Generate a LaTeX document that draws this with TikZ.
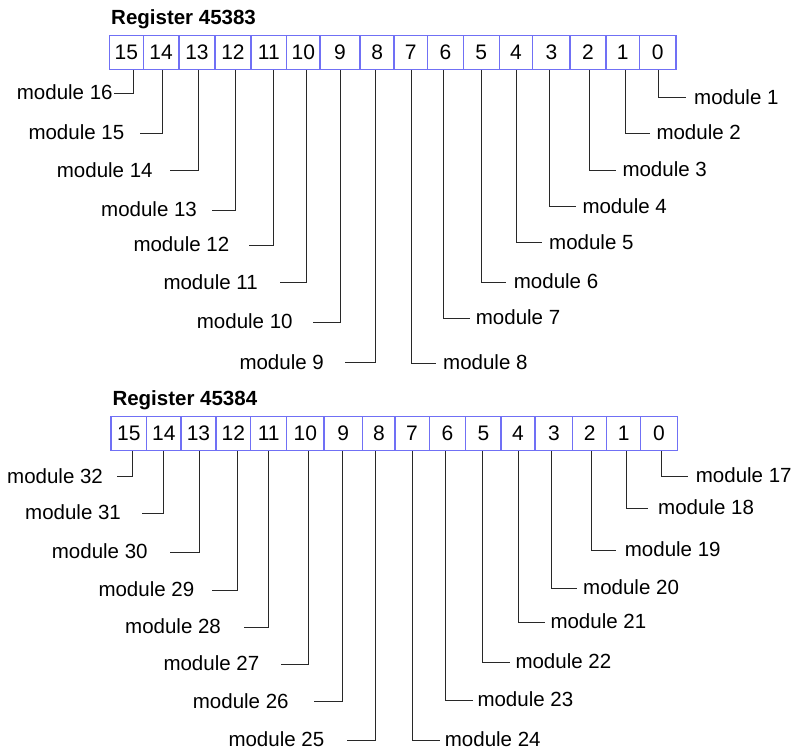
\documentclass[tikz,border=0pt]{standalone}
\usepackage{fontspec}
\setmainfont{Liberation Sans}
\definecolor{boxblue}{RGB}{112,112,245}
\definecolor{leadgray}{RGB}{40,40,40}
\begin{document}
\begin{tikzpicture}[x=1pt,y=-1pt,
  cellbox/.style={draw=boxblue, line width=1.1pt, inner sep=0pt,
    minimum height=34pt, font=\fontsize{21}{24}\selectfont},
  lead/.style={draw=leadgray, line width=0.9pt},
  lbl/.style={inner sep=0pt, font=\fontsize{20.5}{24}\selectfont},
  regtitle/.style={inner sep=0pt, font=\fontsize{20.5}{24}\selectfont\bfseries}]
\useasboundingbox (0,0) rectangle (793,752);

% titles
\node[regtitle, anchor=base west] (t1) at (111,25) {Register 45383};
\node[regtitle, anchor=base west] (t2) at (112.3,405) {Register 45384};

% register 1 cells
\foreach \b/\xa/\xb in {15/109.3/143.3,14/143.3/179,13/179/215,12/215/251,11/251/286.7,10/286.7/320,9/320/360,8/360/394.5,
  7/393.5/427.7,6/427.7/463.3,5/463.3/499.3,4/499.3/532.7,3/532.7/570,2/570/606,1/606/639.3,0/639.3/676}
  \node[cellbox, minimum width={\xb-\xa}] (a\b) at ({(\xa+\xb)/2},52.5) {\b};

% register 2 cells
\foreach \b/\xa/\xb in {15/111/146.7,14/146.7/181,13/181/216,12/216/250.7,11/250.7/286.7,10/286.7/324,9/324/362.3,8/362.3/395.5,
  7/394.5/429.3,6/429.3/465.7,5/465.7/501,4/501/535,3/535/572.7,2/572.7/606.7,1/606.7/640.7,0/640.7/677.3}
  \node[cellbox, minimum width={\xb-\xa}] (b\b) at ({(\xa+\xb)/2},433.5) {\b};

% leaders: register/bit/leader x/line y/end x/text x/module
\foreach \r/\b/\L/\y/\E/\T/\m in {
  a/15/133.3/93.3/114.3/16.7/16, a/14/162.7/133.3/140/28.3/15, a/13/198.3/170.7/170/56.7/14,
  a/12/235.7/210/212.3/101/13, a/11/273.3/245/249.3/133.3/12, a/10/306.3/282.7/280/163.3/11,
  a/9/340.7/322.3/313.3/196.7/10, a/8/375/362.7/345/239.3/9,
  a/7/411.7/363.3/436.3/443/8, a/6/443.3/318.3/469.7/475.7/7, a/5/481.7/282.3/506.3/513.7/6,
  a/4/516.7/242.7/542/549/5, a/3/549.3/206.7/576.3/582.3/4, a/2/589.3/170/615.7/622.3/3,
  a/1/625/133.3/650.3/656.3/2, a/0/658.3/97.7/686.3/694/1,
  b/15/132.3/476.7/116.7/7/32, b/14/163.3/513.3/141.7/25/31, b/13/199/552.3/170/51.7/30,
  b/12/237.3/590/212.3/98.3/29, b/11/268.3/627.3/244.3/125/28, b/10/308.3/664/281/163.3/27,
  b/9/342.7/701.7/314.3/192.7/26, b/8/375.7/740/346.7/228.3/25,
  b/7/412.7/740/439.7/444.7/24, b/6/445/700/473/477.3/23, b/5/482.7/662.3/509.7/515.3/22,
  b/4/518.3/622.3/544.7/550.3/21, b/3/551/588.3/577.3/583/20, b/2/591/550/616.3/624.7/19,
  b/1/626/508.3/648.3/658/18, b/0/661.7/476/687.7/695.7/17}
{
  \node[lbl, anchor=base west] (m\m) at (\T,\y+6.5) {module \m};
  \coordinate (lx\m) at (\L,0);
  \coordinate (le\m) at (\E,\y);
  \draw[lead] (\r\b.south -| lx\m) |- (le\m);
}
\end{tikzpicture}
\end{document}
